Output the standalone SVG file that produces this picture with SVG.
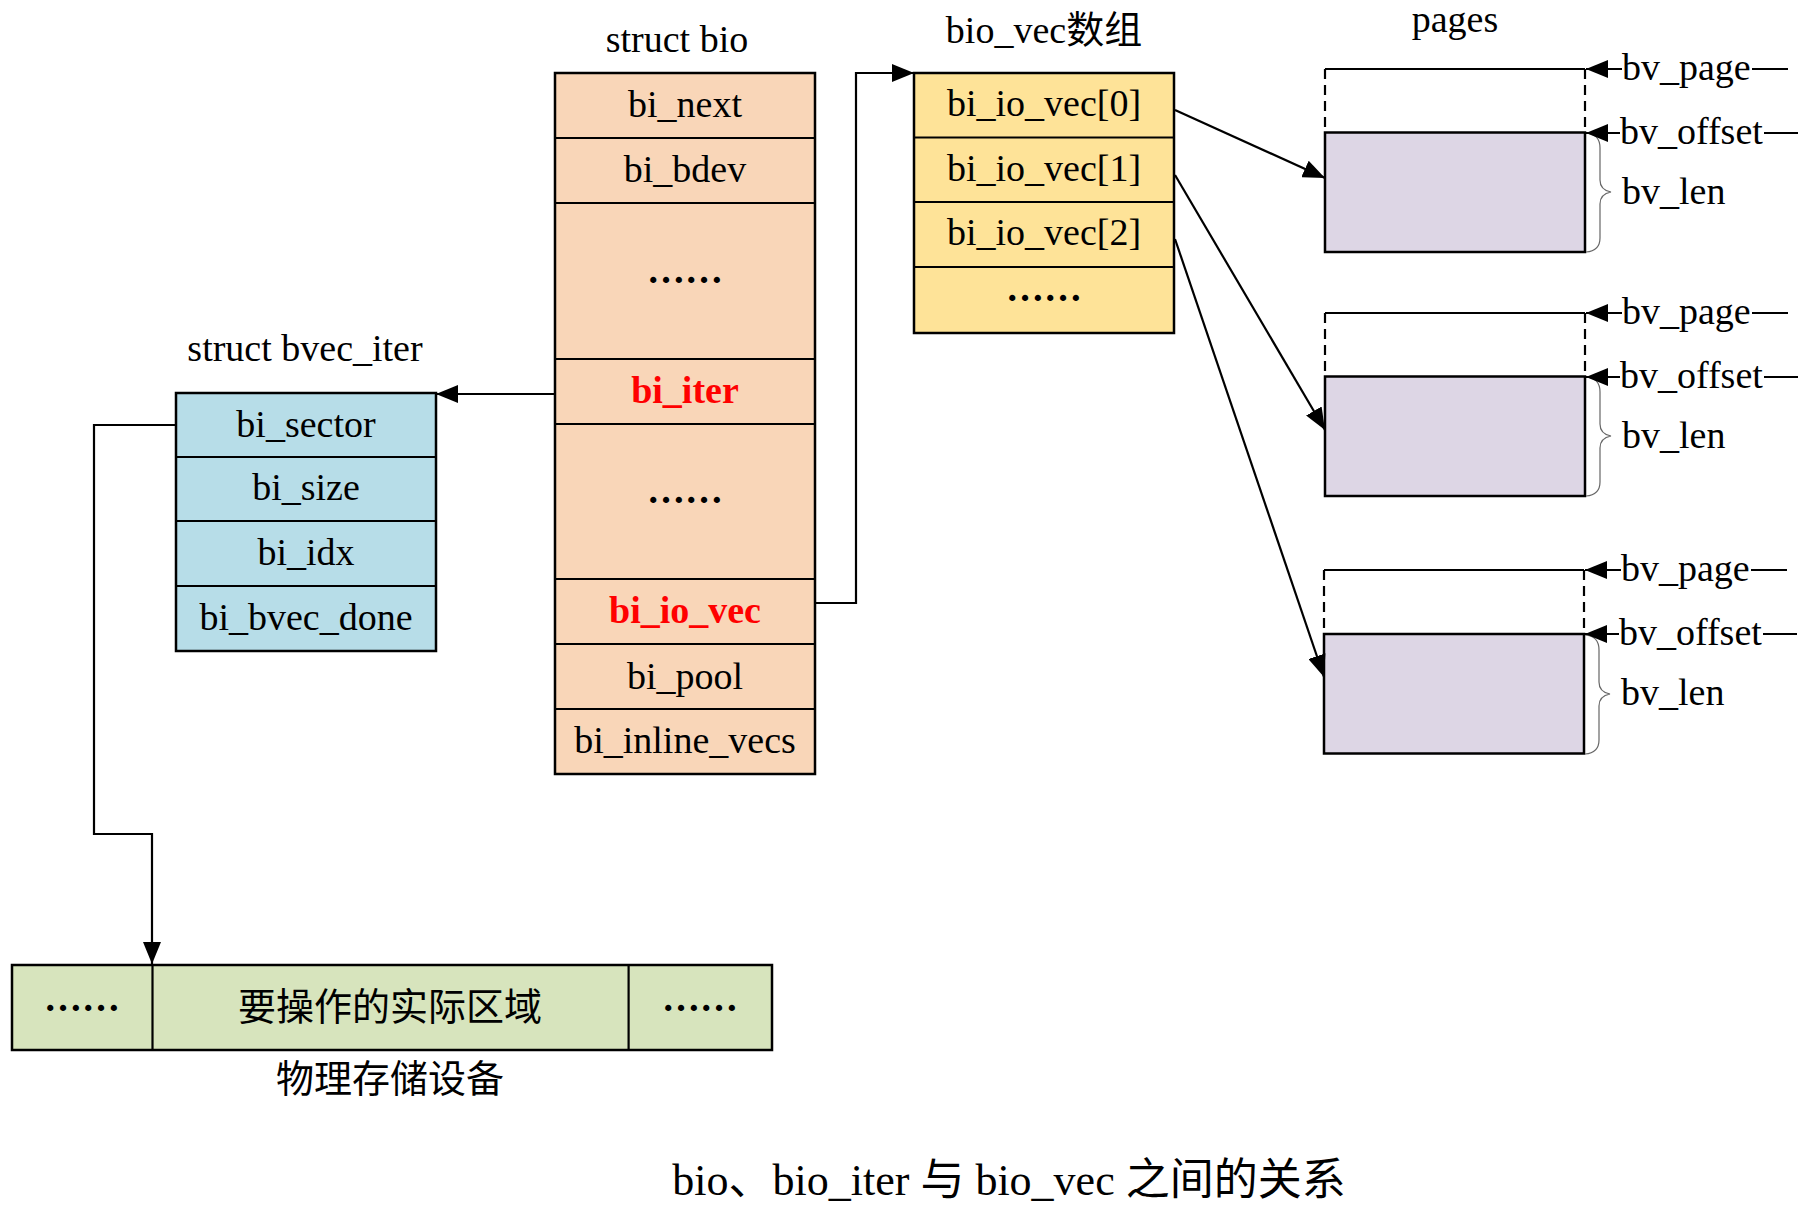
<svg xmlns="http://www.w3.org/2000/svg" width="1812" height="1217" viewBox="0 0 1812 1217">
<defs>
<marker id="arr" markerWidth="22" markerHeight="18" refX="22" refY="9" orient="auto" markerUnits="userSpaceOnUse" viewBox="0 0 22 18"><path d="M0,0 L22,9 L0,18 z" fill="#000"/></marker>
<style>
text{font-family:"Liberation Serif","Noto Sans CJK SC",serif;font-size:38px;fill:#000}
.c{text-anchor:middle}
.red{fill:#FF0000;font-weight:bold}
.dots{font-weight:bold}
.box{stroke:#000;stroke-width:2.5}
.bio{fill:#F9D6B8}
.vec{fill:#FEE398}
.iter{fill:#B7DDE8}
.page{fill:#DDD6E5}
.dev{fill:#D7E4BD}
.ln{fill:none;stroke:#000;stroke-width:2.2}
.dash{fill:none;stroke:#000;stroke-width:2.2;stroke-dasharray:10 6}
.brace{fill:none;stroke:#666;stroke-width:1.2}
</style>
</defs>
<rect width="1812" height="1217" fill="#fff"/>

<!-- struct bio -->
<g id="struct_bio">
<text class="c" x="677" y="52">struct bio</text>
<rect class="box bio" x="555" y="73" width="260" height="701"/>
<path class="ln" d="M555,138H815M555,203H815M555,359H815M555,424H815M555,579H815M555,644H815M555,709H815" stroke-width="2.5"/>
<text class="c" x="685" y="117">bi_next</text>
<text class="c" x="685" y="182">bi_bdev</text>
<text class="c dots" x="685" y="283">……</text>
<text class="c red" x="685" y="403">bi_iter</text>
<text class="c dots" x="685" y="503">……</text>
<text class="c red" x="685" y="623">bi_io_vec</text>
<text class="c" x="685" y="689">bi_pool</text>
<text class="c" x="685" y="753">bi_inline_vecs</text>
</g>

<!-- bio_vec array -->
<g id="bio_vec_array">
<text class="c" x="1044" y="43">bio_vec数组</text>
<rect class="box vec" x="914" y="73" width="260" height="260"/>
<path class="ln" d="M914,137.5H1174M914,202H1174M914,267H1174" stroke-width="2.5"/>
<text class="c" x="1044" y="116">bi_io_vec[0]</text>
<text class="c" x="1044" y="181">bi_io_vec[1]</text>
<text class="c" x="1044" y="245">bi_io_vec[2]</text>
<text class="c dots" x="1044" y="301">……</text>
</g>

<!-- struct bvec_iter -->
<g id="struct_bvec_iter">
<text class="c" x="305" y="361">struct bvec_iter</text>
<rect class="box iter" x="176" y="393" width="260" height="258"/>
<path class="ln" d="M176,457H436M176,521H436M176,586H436" stroke-width="2.5"/>
<text class="c" x="306" y="437">bi_sector</text>
<text class="c" x="306" y="500">bi_size</text>
<text class="c" x="306" y="565">bi_idx</text>
<text class="c" x="306" y="630">bi_bvec_done</text>
</g>

<!-- storage device -->
<g id="storage">
<rect class="box dev" x="12" y="965" width="760" height="85"/>
<path class="ln" d="M152.5,965V1050M628.6,965V1050" stroke-width="2.5"/>
<text class="c dots" x="82" y="1011">……</text>
<text class="c" x="390" y="1020">要操作的实际区域</text>
<text class="c dots" x="700" y="1011">……</text>
<text class="c" x="390" y="1092">物理存储设备</text>
</g>

<!-- pages -->
<g id="pages">
<text class="c" x="1455" y="32">pages</text>
</g>
<g id="page1">
<rect class="box page" x="1325" y="132.5" width="260" height="119.5"/>
<path class="ln" d="M1325,69H1585" stroke-width="2.5"/>
<path class="dash" d="M1325,69V132M1585,69V132"/>
<path class="brace" d="M1586,133Q1600,134 1600,148V180Q1600,190 1611,192Q1600,194 1600,204V238Q1600,251 1586,252"/>
<text x="1622" y="80">bv_page</text>
<text x="1620" y="144">bv_offset</text>
<text x="1622" y="204">bv_len</text>
</g>
<g id="page2">
<rect class="box page" x="1325" y="376.5" width="260" height="119.5"/>
<path class="ln" d="M1325,313H1585" stroke-width="2.5"/>
<path class="dash" d="M1325,313V376M1585,313V376"/>
<path class="brace" d="M1586,377Q1600,378 1600,392V424Q1600,434 1611,436Q1600,438 1600,448V482Q1600,495 1586,496"/>
<text x="1622" y="324">bv_page</text>
<text x="1620" y="388">bv_offset</text>
<text x="1622" y="448">bv_len</text>
</g>
<g id="page3">
<rect class="box page" x="1324" y="634" width="260" height="119.5"/>
<path class="ln" d="M1324,570H1584" stroke-width="2.5"/>
<path class="dash" d="M1324,570V633M1584,570V633"/>
<path class="brace" d="M1585,635Q1599,636 1599,650V682Q1599,692 1610,694Q1599,696 1599,706V740Q1599,753 1585,754"/>
<text x="1621" y="581">bv_page</text>
<text x="1619" y="645">bv_offset</text>
<text x="1621" y="705">bv_len</text>
</g>

<!-- connectors -->
<g id="connectors">
<path class="ln" d="M555,394H436" marker-end="url(#arr)"/>
<path class="ln" d="M815,603H856V73H914" marker-end="url(#arr)"/>
<path class="ln" d="M176,425H94V834H152V964" marker-end="url(#arr)"/>
<path class="ln" d="M1175,110L1325,178" marker-end="url(#arr)"/>
<path class="ln" d="M1175,175L1325,430" marker-end="url(#arr)"/>
<path class="ln" d="M1175,239L1324,677" marker-end="url(#arr)"/>
<path class="ln" d="M1622,69H1586" marker-end="url(#arr)"/>
<path class="ln" d="M1752,69H1788"/>
<path class="ln" d="M1620,133H1586" marker-end="url(#arr)"/>
<path class="ln" d="M1764,133H1798"/>
<path class="ln" d="M1622,313H1586" marker-end="url(#arr)"/>
<path class="ln" d="M1752,313H1788"/>
<path class="ln" d="M1620,377H1586" marker-end="url(#arr)"/>
<path class="ln" d="M1764,377H1798"/>
<path class="ln" d="M1621,570H1585" marker-end="url(#arr)"/>
<path class="ln" d="M1751,570H1787"/>
<path class="ln" d="M1619,634H1585" marker-end="url(#arr)"/>
<path class="ln" d="M1763,634H1797"/>
</g>

<text class="c" x="1009" y="1195" style="font-size:44px">bio、bio_iter 与 bio_vec 之间的关系</text>
</svg>
